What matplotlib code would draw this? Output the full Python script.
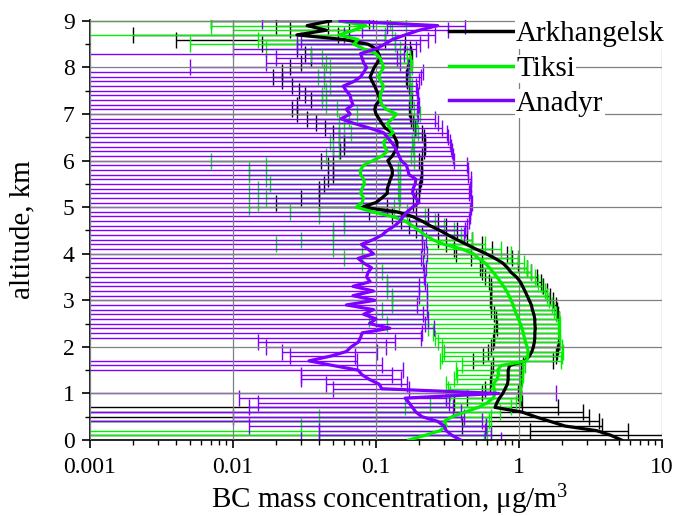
import numpy as np
import matplotlib
matplotlib.use("Agg")
import matplotlib.pyplot as plt
from matplotlib.ticker import LogLocator, MultipleLocator, FixedLocator, FixedFormatter, NullFormatter

plt.rcParams['font.family'] = ['Liberation Serif', 'DejaVu Serif']
plt.rcParams['mathtext.fontset'] = 'custom'
plt.rcParams['mathtext.rm'] = 'Liberation Serif'
plt.rcParams['mathtext.it'] = 'Liberation Serif:italic'

# altitude levels, km (0.0 ... 9.0 in 0.1 km steps)
altitude = np.round(np.arange(91) * 0.1, 1)

arkhangelsk = [5.2, 4.4, 3.5, 2.1, 1.65, 1.3, 1.05, 0.68, 0.70, 0.73,
               0.77, 0.80, 0.83, 0.84, 0.84, 0.84, 0.86, 1.10, 1.18, 1.23,
               1.26, 1.28, 1.29, 1.29, 1.30, 1.29, 1.29, 1.27, 1.24, 1.22,
               1.18, 1.14, 1.10, 1.06, 1.02, 0.96, 0.88, 0.83, 0.77, 0.68,
               0.59, 0.50, 0.43, 0.37, 0.32, 0.28, 0.24, 0.21, 0.18, 0.14,
               0.08, 0.10, 0.11, 0.12, 0.12, 0.123, 0.126, 0.13, 0.13, 0.126,
               0.121, 0.13, 0.136, 0.14, 0.14, 0.135, 0.13, 0.116, 0.11, 0.105,
               0.10, 0.098, 0.10, 0.107, 0.104, 0.101, 0.098, 0.094, 0.091, 0.094,
               0.097, 0.102, 0.107, 0.104, 0.10, 0.088, 0.06, 0.028, 0.045, 0.033,
               0.048]
arkhangelsk_sd = [6.0, 6.0, 2.3, 1.7, 2.0, 1.8, 1.75, 1.2, 0.35, 0.3,
                  0.22, 0.22, 0.2, 0.2, 0.2, 0.2, 0.2, 0.62, 0.62, 0.62,
                  0.62, 0.62, 0.62, 0.62, 0.6, 0.6, 0.6, 0.6, 0.6, 0.58,
                  0.55, 0.5, 0.46, 0.42, 0.4, 0.38, 0.33, 0.3, 0.22, 0.22,
                  0.23, 0.15, 0.12, 0.1, 0.11, 0.09, 0.07, 0.06, 0.05, 0.05,
                  0.04, 0.08, 0.08, 0.08, 0.08, 0.08, 0.08, 0.08, 0.08, 0.08,
                  0.08, 0.08, 0.08, 0.08, 0.08, 0.08, 0.08, 0.072, 0.072, 0.072,
                  0.072, 0.072, 0.072, 0.072, 0.072, 0.072, 0.072, 0.072, 0.072, 0.072,
                  0.072, 0.072, 0.072, 0.072, 0.072, 0.072, 0.056, 0.026, 0.02, 0.013,
                  0.041]

tiksi = [0.17, 0.22, 0.28, 0.31, 0.30, 0.34, 0.42, 0.52, 0.60, 0.66,
         0.68, 0.67, 0.66, 0.70, 0.72, 0.71, 0.75, 1.13, 1.15, 1.16,
         1.14, 1.11, 1.09, 1.07, 1.05, 1.02, 0.99, 0.96, 0.93, 0.91,
         0.88, 0.85, 0.82, 0.78, 0.74, 0.70, 0.66, 0.62, 0.58, 0.52,
         0.48, 0.40, 0.30, 0.25, 0.22, 0.20, 0.18, 0.16, 0.13, 0.095,
         0.073, 0.08, 0.082, 0.078, 0.08, 0.083, 0.082, 0.078, 0.078, 0.082,
         0.095, 0.11, 0.12, 0.115, 0.113, 0.12, 0.132, 0.125, 0.12, 0.13,
         0.139, 0.118, 0.11, 0.107, 0.107, 0.11, 0.113, 0.108, 0.104, 0.108,
         0.113, 0.11, 0.107, 0.10, 0.082, 0.07, 0.075, 0.055, 0.07, 0.085,
         0.055]
tiksi_sd = [0.4, 0.38, 0.36, 0.28, 0.32, 0.3, 0.32, 0.36, 0.36, 0.35,
            0.35, 0.35, 0.35, 0.35, 0.35, 0.35, 0.35, 0.85, 0.86, 0.86,
            0.85, 0.84, 0.83, 0.82, 0.82, 0.9, 0.9, 0.86, 0.82, 0.78,
            0.75, 0.72, 0.7, 0.66, 0.62, 0.6, 0.55, 0.52, 0.5, 0.46,
            0.4, 0.35, 0.28, 0.22, 0.17, 0.15, 0.12, 0.1, 0.09, 0.07,
            0.06, 0.065, 0.065, 0.065, 0.065, 0.065, 0.065, 0.065, 0.065, 0.065,
            0.088, 0.065, 0.065, 0.065, 0.065, 0.065, 0.065, 0.065, 0.065, 0.065,
            0.065, 0.065, 0.065, 0.065, 0.065, 0.065, 0.065, 0.065, 0.065, 0.065,
            0.065, 0.065, 0.065, 0.065, 0.065, 0.065, 0.06, 0.06, 0.06, 0.078,
            0.07]

anadyr = [0.39, 0.34, 0.31, 0.30, 0.27, 0.21, 0.19, 0.18, 0.17, 0.16,
          0.72, 0.11, 0.105, 0.09, 0.08, 0.075, 0.05, 0.034, 0.048, 0.062,
          0.067, 0.075, 0.078, 0.08, 0.125, 0.09, 0.10, 0.082, 0.096, 0.062,
          0.098, 0.069, 0.096, 0.069, 0.091, 0.086, 0.088, 0.093, 0.082, 0.075,
          0.096, 0.088, 0.079, 0.095, 0.11, 0.12, 0.135, 0.147, 0.155, 0.165,
          0.18, 0.20, 0.19, 0.18, 0.182, 0.188, 0.19, 0.17, 0.167, 0.163,
          0.15, 0.145, 0.14, 0.135, 0.128, 0.12, 0.113, 0.09, 0.07, 0.057,
          0.066, 0.062, 0.069, 0.067, 0.066, 0.062, 0.059, 0.07, 0.078, 0.082,
          0.086, 0.082, 0.08, 0.078, 0.10, 0.115, 0.13, 0.16, 0.20, 0.27,
          0.056]
anadyr_sd = [0.36, 0.3, 0.27, 0.287, 0.28, 0.2, 0.2, 0.167, 0.155, 0.149,
             1.1, 0.06, 0.06, 0.06, 0.05, 0.08, 0.06, 0.04, 0.023, 0.04,
             0.05, 0.06, 0.13, 0.13, 0.13, 0.13, 0.13, 0.13, 0.13, 0.13,
             0.13, 0.13, 0.13, 0.13, 0.13, 0.13, 0.13, 0.13, 0.13, 0.13,
             0.13, 0.13, 0.13, 0.13, 0.3, 0.3, 0.3, 0.3, 0.3, 0.29,
             0.28, 0.27, 0.27, 0.27, 0.27, 0.27, 0.27, 0.27, 0.27, 0.27,
             0.2, 0.2, 0.2, 0.2, 0.2, 0.2, 0.2, 0.2, 0.2, 0.2,
             0.13, 0.13, 0.13, 0.13, 0.13, 0.13, 0.13, 0.13, 0.13, 0.13,
             0.081, 0.065, 0.06, 0.08, 0.09, 0.087, 0.1, 0.1, 0.12, 0.15,
             0.04]

series = [("Arkhangelsk", arkhangelsk, arkhangelsk_sd, "#000000"),
          ("Tiksi", tiksi, tiksi_sd, "#00f000"),
          ("Anadyr", anadyr, anadyr_sd, "#7f00ff")]

fig = plt.figure(figsize=(6.76, 5.16), dpi=100)
ax = fig.add_axes([90/676, 76/516, 572/676, 420/516])
ax.set_xscale('log')

for name, mean, sd, col in series:
    m = np.asarray(mean, float)
    s = np.asarray(sd, float)
    lo = np.where(m - s > 0, s, m - 1e-6)
    ax.errorbar(m, altitude, xerr=[lo, s], fmt='none', ecolor=col,
                elinewidth=1.0, capsize=5.5, capthick=1.0, zorder=2)

lines = []
for name, mean, sd, col in series:
    ln, = ax.plot(mean, altitude, color=col, lw=2.3, zorder=3, label=name,
                  solid_joinstyle='round')
    lines.append(ln)

ax.set_xlim(0.001, 10)
ax.set_ylim(0, 9.02)
ax.set_axisbelow(False)
ax.grid(True, which='major', color='#808080', lw=0.9)

ax.xaxis.set_major_locator(FixedLocator([0.001, 0.01, 0.1, 1, 10]))
ax.xaxis.set_major_formatter(FixedFormatter(['0.001', '0.01', '0.1', '1', '10']))
ax.xaxis.set_minor_locator(LogLocator(base=10, subs=np.arange(2, 10)))
ax.xaxis.set_minor_formatter(NullFormatter())
ax.yaxis.set_major_locator(MultipleLocator(1))
ax.yaxis.set_minor_locator(MultipleLocator(0.5))

for sp in ['top', 'right']:
    ax.spines[sp].set_visible(False)
for sp in ['left', 'bottom']:
    ax.spines[sp].set_linewidth(1.2)

ax.tick_params(axis='both', which='major', direction='out', length=6, width=1.2,
               labelsize=17)
ax.tick_params(axis='both', which='minor', direction='out', length=3.5, width=1.0)
ax.tick_params(axis='x', which='major', pad=6)
ax.tick_params(axis='y', which='major', pad=5)

ax.set_xlabel('BC mass concentration, μg/m$^{3}$', fontsize=21)
ax.set_ylabel('altitude, km', fontsize=21)
ax.xaxis.set_label_coords(0.5245, -0.101)
ax.yaxis.set_label_coords(-0.096, 0.5)

leg = ax.legend(handles=lines, loc='upper left', bbox_to_anchor=(449/676, 1 - 21/516),
                bbox_transform=fig.transFigure, frameon=False, fontsize=21,
                handlelength=2.3, handletextpad=0.0, labelspacing=0.28,
                borderpad=0, borderaxespad=0)
for t in leg.get_texts():
    t.set_bbox(dict(facecolor='white', edgecolor='none', pad=1))
for h in leg.get_lines():
    h.set_linewidth(2.5)
leg.set_zorder(10)

fig.savefig('out.png', dpi=100)
